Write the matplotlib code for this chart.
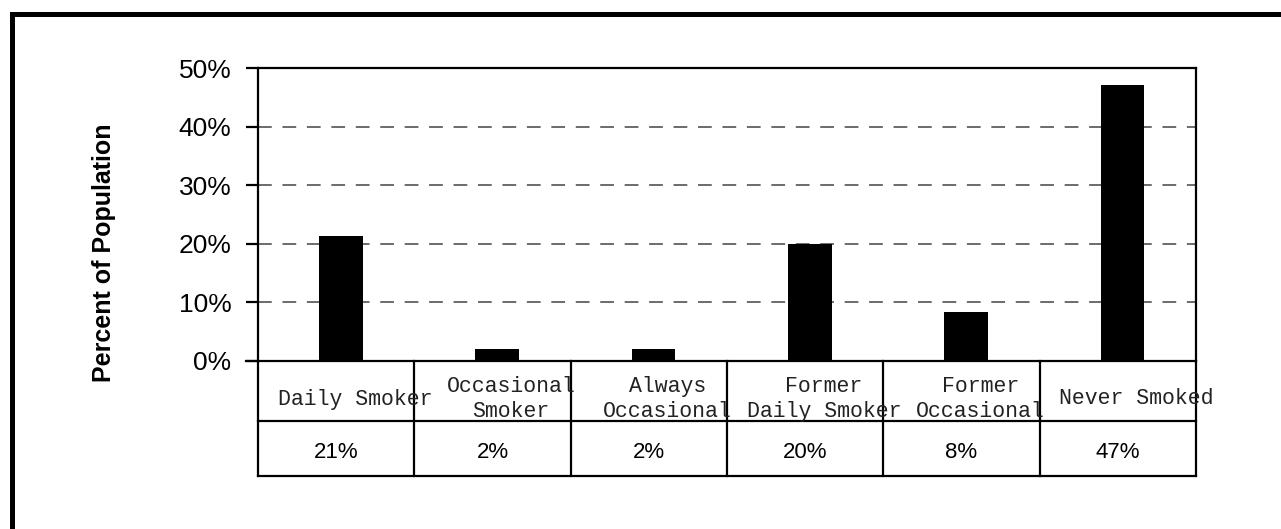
import matplotlib
matplotlib.use("Agg")
import matplotlib.pyplot as plt
import numpy as np
from matplotlib.patches import Rectangle
from matplotlib.transforms import blended_transform_factory

# data
categories = ["Daily Smoker", "Occasional\nSmoker", "Always\nOccasional",
              "Former\nDaily Smoker", "Former\nOccasional", "Never Smoked"]
percent = [21.3, 2.0, 2.0, 20.0, 8.3, 47.1]
value_labels = ["21%", "2%", "2%", "20%", "8%", "47%"]
y_ticks = [0, 10, 20, 30, 40, 50]

W, H = 1281, 529
fig = plt.figure(figsize=(W / 100, H / 100), dpi=100)
ax = fig.add_axes([258 / W, 1 - 361 / H, (1196 - 258) / W, (361 - 68) / H])

n = len(categories)
x = np.arange(n)
ax.bar(x + 0.03, percent, width=0.28, color="black", zorder=3)

ax.set_xlim(-0.5, n - 0.5)
ax.set_ylim(0, 50)
ax.set_yticks(y_ticks)
ax.set_yticklabels([f"{t}%" for t in y_ticks], fontsize=19, family="Liberation Sans")
ax.tick_params(axis="y", length=9, width=1.6, pad=10, direction="out")
ax.set_xticks([])
for t in y_ticks[1:-1]:
    ax.axhline(t, color="#444444", lw=1.1, ls=(0, (9, 7)), zorder=1)

for s in ax.spines.values():
    s.set_linewidth(1.6)
ax.spines["bottom"].set_visible(False)

ax.set_ylabel("Percent of Population", fontsize=18, fontweight="bold",
              family="Liberation Sans")
ax.yaxis.set_label_coords(116 / W, 1 - 253 / H, transform=fig.transFigure)

# table underneath the axis
tr = blended_transform_factory(ax.transData, ax.transAxes)
row1 = -60 / 293
row2 = -115 / 293
lw = 1.6
ax.plot([-0.5 - 12 / 156.3, n - 0.5], [0, 0], transform=tr, color="black", lw=lw, clip_on=False)
for yy in (row1, row2):
    ax.plot([-0.5, n - 0.5], [yy, yy], transform=tr, color="black", lw=lw, clip_on=False)
for k in range(n + 1):
    ax.plot([k - 0.5, k - 0.5], [0, row2], transform=tr, color="black", lw=lw, clip_on=False)

for i, (cat, val) in enumerate(zip(categories, value_labels)):
    ax.text(i + 0.12, -38 / 293, cat, transform=tr, ha="center", va="center",
            fontsize=15.5, family="Liberation Mono", color="#222222", linespacing=1.3)
    ax.text(i, -91 / 293, val, transform=tr, ha="center", va="center",
            fontsize=16, family="Liberation Sans", color="black")

# heavy outer frame (cropped on the right and bottom)
fig.add_artist(Rectangle((12 / W, -0.2), 2, 1.2 - 14 / H, transform=fig.transFigure,
                         fill=False, ec="black", lw=3.6))

fig.savefig("out.png", dpi=100)
